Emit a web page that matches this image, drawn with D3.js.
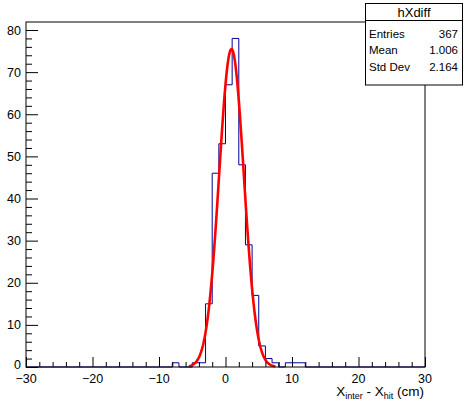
<!DOCTYPE html>
<meta charset="utf-8">
<style>
  body { margin: 0; background: #fff; }
  svg { display: block; }
  text { font-family: 'Liberation Sans', Arial, sans-serif; fill: #000; }
  .tick-label { font-size: 12.5px; }
  .stats { font-size: 11.5px; }
</style>
<script src="https://d3js.org/d3.v7.min.js"></script>
<svg width="464" height="403"></svg>
<script>
// histogram hXdiff: 60 bins of 1 cm from -30 to 30
var binLow = -30, binWidth = 1;
var counts = [
  0, 0, 0, 0, 0, 0, 0, 0, 0, 0,   // -30 .. -20
  0, 0, 0, 0, 0, 0, 0, 0, 0, 0,   // -20 .. -10
  0, 0, 1, 0, 0, 1, 1, 15, 46, 53, // -10 .. 0
  67, 78, 48, 29, 17, 5, 2, 1, 0, 1, // 0 .. 10
  1, 1, 0, 0, 0, 0, 0, 0, 0, 0,   // 10 .. 20
  0, 0, 0, 0, 0, 0, 0, 0, 0, 0    // 20 .. 30
];

// gaussian fit: constant, mean, sigma, range
var fitParams = [75.5, 0.9, 1.85];
var fitRange = [-5.49, 7.5];

var xTicks = [-30, -20, -10, 0, 10, 20, 30];
var yTicks = [0, 10, 20, 30, 40, 50, 60, 70, 80];

var statsTitle = "hXdiff";
var statsNames = ["Entries", "Mean", "Std Dev"];
var statsValues = ["367", "1.006", "2.164"];

var svg = d3.select("svg");
var fLeft = 26, fRight = 425, fTop = 22, fBottom = 367;

var x = d3.scaleLinear().domain([-30, 30]).range([fLeft, fRight]);
var y = d3.scaleLinear().domain([0, 81.9]).range([fBottom, fTop]);

// histogram outline
var pts = [];
counts.forEach(function(c, i) {
  var x0 = binLow + i * binWidth;
  pts.push([x(x0), y(c)]);
  pts.push([x(x0 + binWidth), y(c)]);
});
svg.append("path")
  .attr("d", d3.line()(pts))
  .attr("fill", "none")
  .attr("stroke", "#000099")
  .attr("stroke-width", 1);

// fit curve
var fx = d3.range(0, 101).map(function(k) {
  return fitRange[0] + (fitRange[1] - fitRange[0]) * k / 100;
});
var gaus = function(v) {
  var d = (v - fitParams[1]) / fitParams[2];
  return fitParams[0] * Math.exp(-0.5 * d * d);
};
svg.append("path")
  .attr("d", d3.line().x(function(v) { return x(v); }).y(function(v) { return y(gaus(v)); })(fx))
  .attr("fill", "none")
  .attr("stroke", "#ff0000")
  .attr("stroke-width", 2.6)
  .attr("stroke-linejoin", "round");

// frame
svg.append("rect")
  .attr("x", fLeft).attr("y", fTop)
  .attr("width", fRight - fLeft).attr("height", fBottom - fTop)
  .attr("fill", "none").attr("stroke", "#000").attr("stroke-width", 1);

// x axis ticks
var xAxis = d3.axisTop(x).tickValues(d3.range(-30, 31, 2)).tickSize(5).tickFormat("");
var gx = svg.append("g").attr("transform", "translate(0," + fBottom + ")").call(xAxis);
gx.select(".domain").remove();
gx.selectAll(".tick line").attr("y2", function(d) { return d % 10 === 0 ? -10 : -5; });

svg.selectAll(".xlab").data(xTicks).enter().append("text")
  .attr("class", "tick-label")
  .attr("x", function(d) { return x(d); })
  .attr("y", 383)
  .attr("text-anchor", "middle")
  .text(function(d) { return d < 0 ? "\u2212" + Math.abs(d) : d; });

// y axis ticks
var yAxis = d3.axisRight(y).tickValues(d3.range(0, 81, 2)).tickSize(6).tickFormat("");
var gy = svg.append("g").attr("transform", "translate(" + fLeft + ",0)").call(yAxis);
gy.select(".domain").remove();
gy.selectAll(".tick line").attr("x2", function(d) { return d % 10 === 0 ? 12 : 6; });

svg.selectAll(".ylab").data(yTicks).enter().append("text")
  .attr("class", "tick-label")
  .attr("x", 21)
  .attr("y", function(d) { return d === 0 ? y(d) + 1.5 : y(d) + 4.5; })
  .attr("text-anchor", "end")
  .text(function(d) { return d; });

// axis title
var title = svg.append("text")
  .attr("x", 424).attr("y", 396)
  .attr("text-anchor", "end")
  .style("font-size", "13.5px");
title.append("tspan").text("X");
title.append("tspan").attr("dy", 3).style("font-size", "9px").text("inter");
title.append("tspan").attr("dy", -3).text(" - X");
title.append("tspan").attr("dy", 3).style("font-size", "9px").text("hit");
title.append("tspan").attr("dy", -3).text(" (cm)");

// stats box
var sb = svg.append("g");
sb.append("rect")
  .attr("x", 365.5).attr("y", 3.5).attr("width", 97).attr("height", 81.5)
  .attr("fill", "#fff").attr("stroke", "#000").attr("stroke-width", 1);
sb.append("line")
  .attr("x1", 365.5).attr("x2", 462.5).attr("y1", 20.5).attr("y2", 20.5)
  .attr("stroke", "#000");
sb.append("text")
  .attr("x", 414).attr("y", 16.5)
  .attr("text-anchor", "middle")
  .style("font-size", "13px")
  .text(statsTitle);
statsNames.forEach(function(n, i) {
  sb.append("text").attr("class", "stats")
    .attr("x", 369).attr("y", 37.5 + i * 16.7).text(n);
  sb.append("text").attr("class", "stats")
    .attr("x", 458).attr("y", 37.5 + i * 16.7)
    .attr("text-anchor", "end").text(statsValues[i]);
});
</script>
